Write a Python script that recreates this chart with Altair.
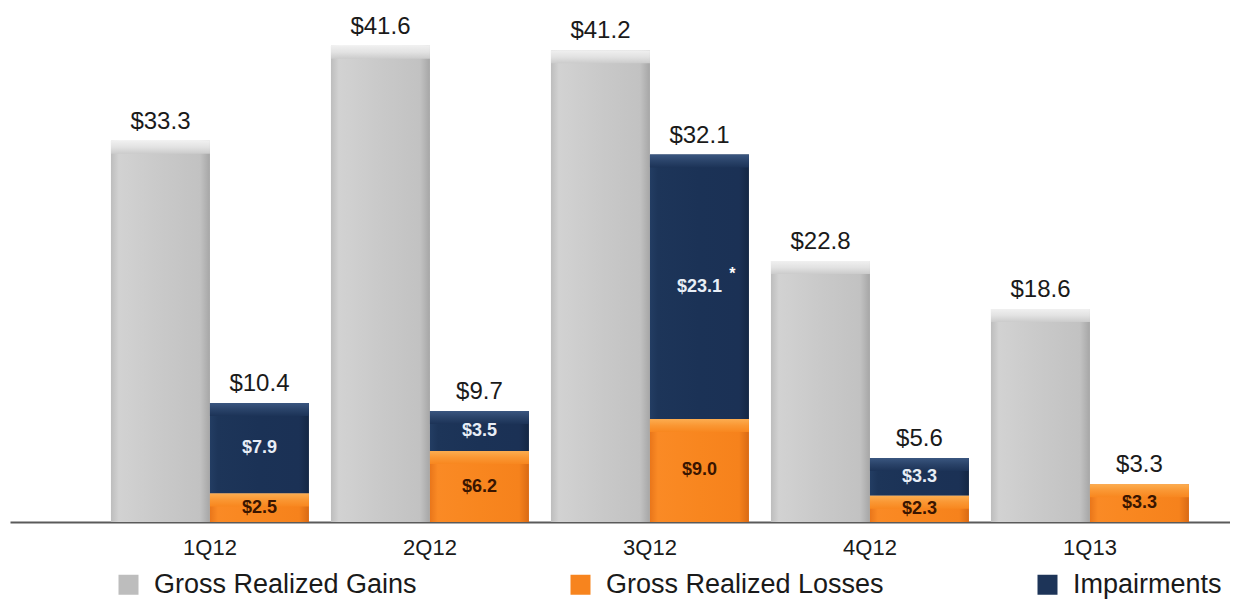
import altair as alt
import pandas as pd

# ---- data ----
quarters = ["1Q12", "2Q12", "3Q12", "4Q12", "1Q13"]
gains = [33.3, 41.6, 41.2, 22.8, 18.6]
losses = [2.5, 6.2, 9.0, 2.3, 3.3]
impairments = [7.9, 3.5, 23.1, 3.3, 0.0]
notes = ["", "", "*", "", ""]
series_names = ["Gross Realized Gains", "Gross Realized Losses", "Impairments"]

rows = []
for i, q in enumerate(quarters):
    rows.append({"cat": q, "off": "g", "series": series_names[0], "ord": 0, "value": gains[i], "note": ""})
    rows.append({"cat": q, "off": "s", "series": series_names[1], "ord": 1, "value": losses[i], "note": ""})
    rows.append({"cat": q, "off": "s", "series": series_names[2], "ord": 2, "value": impairments[i], "note": notes[i]})
df = pd.DataFrame(rows)

tops = pd.DataFrame(
    [{"cat": q, "off": "g", "total": gains[i]} for i, q in enumerate(quarters)]
    + [{"cat": q, "off": "s", "total": round(losses[i] + impairments[i], 1)} for i, q in enumerate(quarters)]
)

FONT = "Liberation Sans"
YMAX = 44.9

X = alt.X("cat:N", sort=quarters,
          scale=alt.Scale(paddingInner=0.1, paddingOuter=0.3227, align=0.711),
          axis=alt.Axis(title=None, ticks=False, labelAngle=0, labelFontSize=22,
                        labelFont=FONT, labelColor="#1a1a1a", labelPadding=15,
                        domainColor="#5a5a5a", domainWidth=2))
XO = alt.XOffset("off:N", scale=alt.Scale(domain=["g", "s"], paddingInner=0, paddingOuter=0))
YS = alt.Scale(domain=[0, YMAX], nice=False, zero=True)


def hgrad(c):
    return alt.Gradient(gradient="linear", x1=0, x2=1, y1=0, y2=0,
                        stops=[alt.GradientStop(color=s[0], offset=s[1]) for s in c])


def vgrad(c):
    return alt.Gradient(gradient="linear", x1=0, x2=0, y1=0, y2=1,
                        stops=[alt.GradientStop(color=s[0], offset=s[1]) for s in c])


fills = {
    series_names[0]: hgrad([("#bdbdbd", 0), ("#d2d2d2", 0.08), ("#c9c9c9", 0.5), ("#c2c2c2", 0.9), ("#a6a6a6", 1)]),
    series_names[1]: hgrad([("#e9761a", 0), ("#fa8a25", 0.08), ("#f8861f", 0.5), ("#f6821c", 0.9), ("#d96a14", 1)]),
    series_names[2]: hgrad([("#233d63", 0), ("#1d3559", 0.08), ("#1b3256", 0.5), ("#1b3155", 0.9), ("#142744", 1)]),
}
bevels = {
    series_names[0]: vgrad([("#f0f0f0", 0), ("#e2e2e2", 0.5), ("#cbcbcb", 1)]),
    series_names[1]: vgrad([("#fcad50", 0), ("#fa9733", 0.5), ("#f8871f", 1)]),
    series_names[2]: vgrad([("#3a5680", 0), ("#2a4369", 0.5), ("#1c3357", 1)]),
}

base = alt.Chart(df).transform_stack(
    stack="value", groupby=["cat", "off"], as_=["y0", "y1"],
    sort=[alt.SortField("ord", order="ascending")]
)

layers = []
for s in series_names:
    layers.append(
        base.transform_filter(alt.datum.series == s).mark_bar(color=fills[s]).encode(
            x=X, xOffset=XO,
            y=alt.Y("y0:Q", scale=YS, axis=None), y2="y1:Q")
    )
for s in series_names:
    layers.append(
        base.transform_filter((alt.datum.series == s) & (alt.datum.value > 0)).mark_bar(
            color=bevels[s], y2Offset=13).encode(
            x=X, xOffset=XO,
            y=alt.Y("y1:Q", scale=YS, axis=None), y2="y1:Q")
    )

# legend carrier (zero-height bars)
layers.append(
    base.mark_bar().encode(
        x=X, xOffset=XO,
        y=alt.Y("y0:Q", scale=YS, axis=None), y2="y0:Q",
        color=alt.Color("series:N",
                        scale=alt.Scale(domain=series_names, range=["#bdbdbd", "#f7841e", "#1d3458"]),
                        legend=alt.Legend(title=None, orient="none", direction="horizontal",
                                          legendX=105, legendY=563, symbolType="square",
                                          symbolSize=400, symbolStrokeWidth=0, labelFontSize=27,
                                          labelFont=FONT, labelColor="#1a1a1a", labelOffset=12,
                                          columnPadding=150, labelLimit=600)))
)

# top value labels
layers.append(
    alt.Chart(tops).mark_text(baseline="bottom", dy=-7, fontSize=24, font=FONT, color="#1a1a1a").encode(
        x=X, xOffset=XO,
        y=alt.Y("total:Q", scale=YS, axis=None),
        text=alt.Text("total:Q", format="$.1f"))
)

# inner labels
layers.append(
    base.transform_filter((alt.datum.series == series_names[2]) & (alt.datum.value > 0))
    .transform_calculate(mid="(datum.y0 + datum.y1) / 2")
    .mark_text(fontSize=18, fontWeight="bold", font=FONT, color="#e8eef6").encode(
        x=X, xOffset=XO,
        y=alt.Y("mid:Q", scale=YS, axis=None),
        text=alt.Text("value:Q", format="$.1f"))
)
layers.append(
    base.transform_filter((alt.datum.series == series_names[1]) & (alt.datum.value > 0))
    .transform_calculate(mid="(datum.y0 + datum.y1) / 2")
    .mark_text(fontSize=18, fontWeight="bold", font=FONT, color="#3a1500").encode(
        x=X, xOffset=XO,
        y=alt.Y("mid:Q", scale=YS, axis=None),
        text=alt.Text("value:Q", format="$.1f"))
)
# footnote marker
layers.append(
    base.transform_filter((alt.datum.series == series_names[2]) & (alt.datum.note != ""))
    .transform_calculate(mid="(datum.y0 + datum.y1) / 2")
    .mark_text(fontSize=16, fontWeight="bold", font=FONT, color="#ffffff", dx=33, dy=-13).encode(
        x=X, xOffset=XO,
        y=alt.Y("mid:Q", scale=YS, axis=None),
        text="note:N")
)

chart = alt.layer(*layers).properties(
    width=1220, height=514,
    autosize=alt.AutoSizeParams(type="none"),
    padding={"left": 2, "top": 0, "right": 0, "bottom": 78},
).configure_view(stroke=None).configure_axis(grid=False)

chart.save("out.html", embed_options={"renderer": "svg", "actions": False})
